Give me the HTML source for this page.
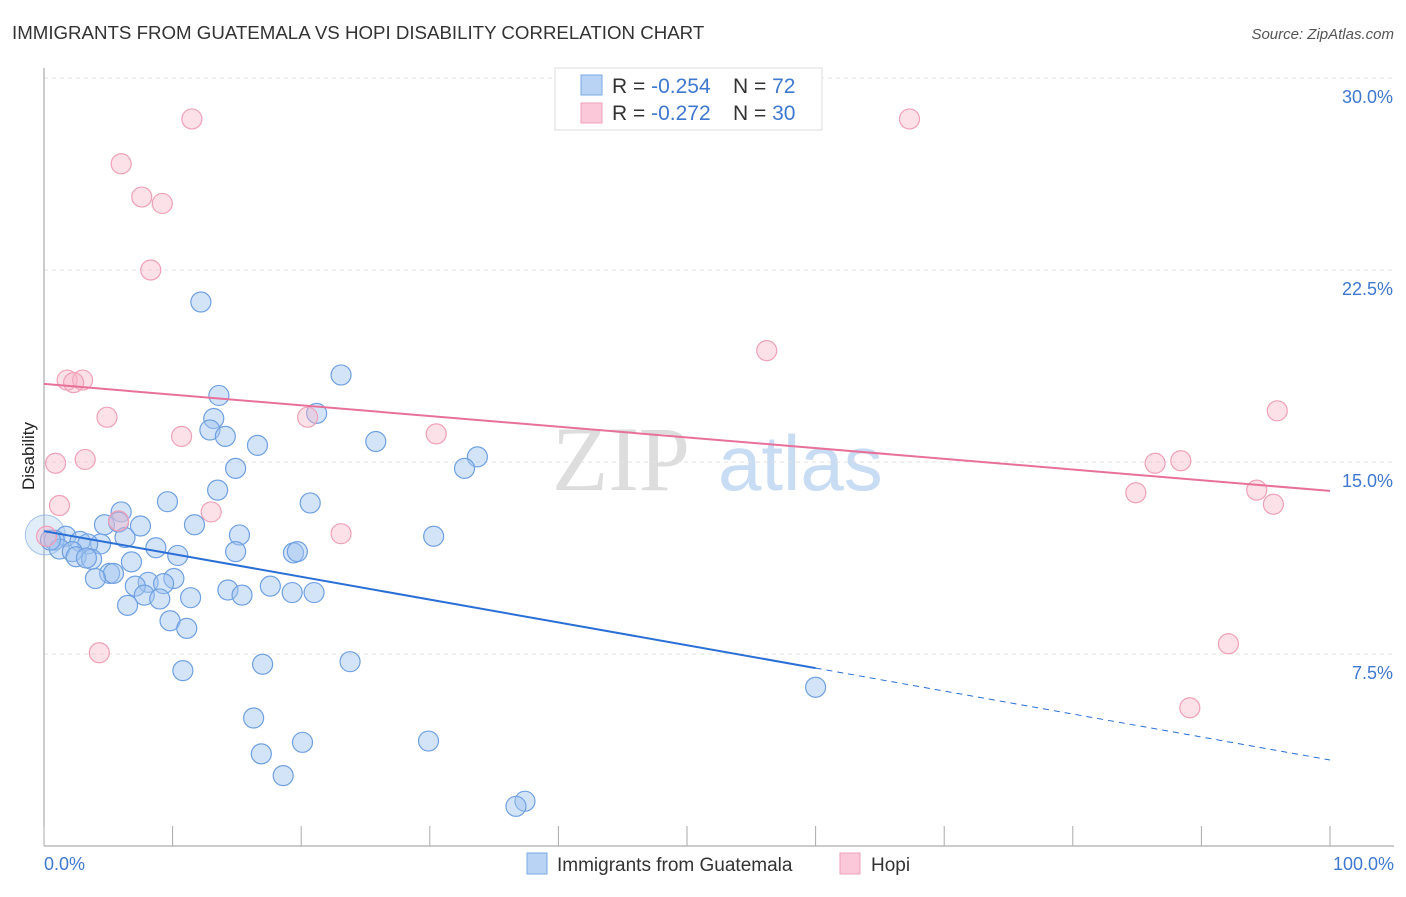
<!DOCTYPE html>
<html><head><meta charset="utf-8"><style>
body{margin:0;background:#fff;font-family:"Liberation Sans",sans-serif}
</style></head><body>
<svg width="1406" height="892" xmlns="http://www.w3.org/2000/svg">
<text x="12" y="39" font-size="18.7" fill="#333">IMMIGRANTS FROM GUATEMALA VS HOPI DISABILITY CORRELATION CHART</text>
<text x="1394" y="39" font-size="15" fill="#555" font-style="italic" text-anchor="end">Source: ZipAtlas.com</text>
<g><text x="552" y="490" font-size="92" font-family="Liberation Serif" fill="#ddd">ZIP</text><text x="718" y="490" font-size="78" fill="#c8dcf3">atlas</text></g>
<g id="grid"></g>
<line x1="44" y1="68" x2="44" y2="846" stroke="#999"/>
<line x1="44" y1="846" x2="1394" y2="846" stroke="#999"/>
<g id="ticks"></g>
<g id="pts"></g>
<g id="lines"></g>
<text x="34" y="456" font-size="17" fill="#222" transform="rotate(-90 34 456)" text-anchor="middle">Disability</text>
<text x="44" y="870" font-size="18" fill="#3f78d0">0.0%</text>
<text x="1394" y="870" font-size="18" fill="#3f78d0" text-anchor="end">100.0%</text>
<g>
<rect x="555" y="68" width="267" height="62" fill="#fff" stroke="#ddd"/>
<rect x="581" y="75" width="21" height="20" fill="#b9d3f5" stroke="#7aa8e6"/>
<rect x="581" y="103" width="21" height="20" fill="#fac8d8" stroke="#f0a0b8"/>
<text x="612" y="93" font-size="21" fill="#333">R = <tspan fill="#3f78d0">-0.254</tspan><tspan x="733">N = </tspan><tspan fill="#3f78d0">72</tspan></text>
<text x="612" y="120" font-size="21" fill="#333">R = <tspan fill="#3f78d0"> -0.272</tspan><tspan x="733">N = </tspan><tspan fill="#3f78d0">30</tspan></text>
</g>
<g>
<rect x="527" y="853" width="20" height="21" fill="#b9d3f5" stroke="#7aa8e6"/>
<text x="557" y="871" font-size="19" fill="#333">Immigrants from Guatemala</text>
<rect x="840" y="853" width="20" height="21" fill="#fac8d8" stroke="#f0a0b8"/>
<text x="871" y="871" font-size="19" fill="#333">Hopi</text>
</g>
</svg>
<script>
const yTicks=[7.5,15,22.5,30];
const yTickLabels=["7.5%","15.0%","22.5%","30.0%"];
const xTicks=[0,10,20,30,40,50,60,70,80,90,100];
const blueX=[12.2,23.1,13.6,13.2,12.9,14.1,21.2,25.8,16.6,33.7,32.7,14.9,13.5,9.6,20.7,6.0,4.7,7.5,11.7,5.8,15.2,30.3,6.3,1.7,0.8,2.8,4.4,3.4,8.7,14.9,19.4,19.7,10.4,1.2,2.2,2.5,3.7,3.3,6.8,5.1,5.4,4.0,10.1,8.1,9.3,7.1,17.6,14.3,19.3,21.0,15.4,7.8,11.4,9.0,6.5,9.8,11.1,23.8,17.0,10.8,60.0,16.3,20.1,29.9,16.9,18.6,37.4,36.7,0.5];
const blueY=[21.25,18.4,17.6,16.7,16.25,16.0,16.9,15.8,15.65,15.2,14.75,14.75,13.9,13.45,13.4,13.05,12.55,12.5,12.55,12.65,12.15,12.1,12.05,12.1,11.95,11.9,11.8,11.8,11.65,11.5,11.45,11.5,11.35,11.6,11.5,11.3,11.2,11.25,11.1,10.65,10.65,10.45,10.45,10.3,10.25,10.15,10.15,10.0,9.9,9.9,9.8,9.8,9.7,9.65,9.4,8.8,8.5,7.2,7.1,6.85,6.2,5.0,4.05,4.1,3.6,2.75,1.75,1.55,11.95];
const pinkX=[11.5,67.3,6.0,7.6,9.2,8.3,56.2,1.8,3.0,2.3,4.9,20.5,95.9,10.7,30.5,0.9,3.2,86.4,88.4,84.9,94.3,95.6,1.2,13.0,5.8,23.1,0.2,4.3,92.1,89.1];
const pinkY=[28.4,28.4,26.65,25.35,25.1,22.5,19.35,18.2,18.2,18.1,16.75,16.75,17.0,16.0,16.1,14.95,15.1,14.95,15.05,13.8,13.9,13.35,13.3,13.05,12.7,12.2,12.1,7.55,7.9,5.4];
const blueTrend=[12.3,6.95,3.36];
const pinkTrend=[18.05,13.87];
const sx=v=>44+v*12.86, sy=v=>846-v*25.6;
const NS="http://www.w3.org/2000/svg";
function mk(t,a,p){const e=document.createElementNS(NS,t);for(const k in a)e.setAttribute(k,a[k]);p.appendChild(e);return e;}
const grid=document.getElementById('grid');
yTicks.forEach((t,i)=>{
 const l=mk('line',{x1:44,x2:1394,y1:sy(t),y2:sy(t),stroke:'#e2e2e2','stroke-dasharray':'4,4'},grid);
 
 
 const tx=mk('text',{x:1393,y:sy(t)+25,'font-size':18,fill:'#3f78d0','text-anchor':'end'},grid);
 tx.textContent=yTickLabels[i];
 
 
});
const tk=document.getElementById('ticks');
xTicks.forEach(t=>{const l=mk('line',{x1:sx(t),x2:sx(t),y1:826,y2:846,stroke:'#aaa'},tk);
 
 });
const pts=document.getElementById('pts');
const big=mk('circle',{cx:sx(0.1),cy:sy(12.15),r:20,fill:'rgba(160,196,240,0.3)',stroke:'rgba(111,160,226,0.6)'},pts);


blueX.forEach((x,i)=>{const c=mk('circle',{cx:sx(x),cy:sy(blueY[i]),r:10,fill:'rgba(160,196,240,0.45)',stroke:'#6fa0e2','stroke-width':1.2},pts);
 
 });
pinkX.forEach((x,i)=>{const c=mk('circle',{cx:sx(x),cy:sy(pinkY[i]),r:10,fill:'rgba(248,180,200,0.4)',stroke:'#f0a0b8','stroke-width':1.2},pts);
 
 });
const ln=document.getElementById('lines');
const b1=mk('line',{x1:sx(0),y1:sy(blueTrend[0]),x2:sx(60),y2:sy(blueTrend[1]),stroke:'#2a6fd6','stroke-width':2},ln);


const b2=mk('line',{x1:sx(60),y1:sy(blueTrend[1]),x2:sx(100),y2:sy(blueTrend[2]),stroke:'#2a6fd6','stroke-width':1,'stroke-dasharray':'6,5'},ln);


const p1=mk('line',{x1:sx(0),y1:sy(pinkTrend[0]),x2:sx(100),y2:sy(pinkTrend[1]),stroke:'#e8719a','stroke-width':2},ln);


</script>
</body></html>
